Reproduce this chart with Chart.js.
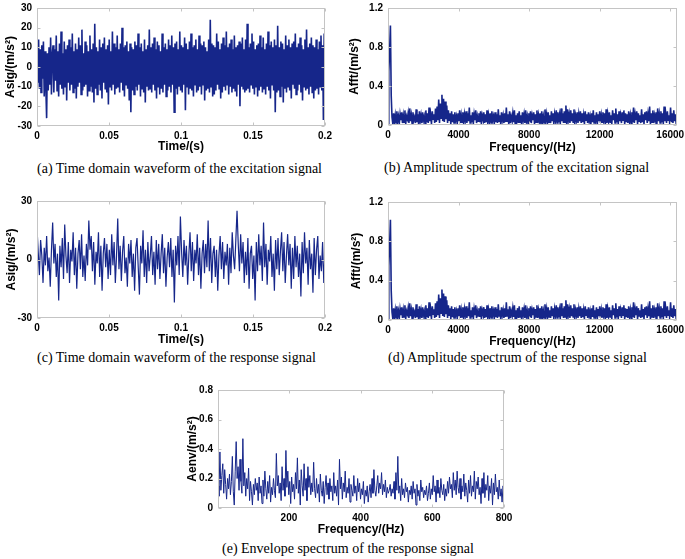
<!DOCTYPE html>
<html>
<head>
<meta charset="utf-8">
<script src="https://cdn.jsdelivr.net/npm/chart.js@4/dist/chart.umd.min.js"></script>
<style>
  body { margin: 0; background: #fff; }
  #page { position: relative; width: 685px; height: 559px; overflow: hidden; background: #fff; }
  canvas { position: absolute; }
  .caption {
    position: absolute;
    font-family: "Liberation Serif", "Times New Roman", serif;
    font-size: 14px;
    line-height: 16px;
    color: #000;
    white-space: nowrap;
  }
</style>
</head>
<body>
<div id="page">
  <canvas id="chart-a"></canvas>
  <canvas id="chart-b"></canvas>
  <canvas id="chart-c"></canvas>
  <canvas id="chart-d"></canvas>
  <canvas id="chart-e"></canvas>
  <div class="caption" style="left:37px; top:161px;">(a) Time domain waveform of the excitation signal</div>
  <div class="caption" style="left:384px; top:160px;">(b) Amplitude spectrum of the excitation signal</div>
  <div class="caption" style="left:37px; top:350px;">(c) Time domain waveform of the response signal</div>
  <div class="caption" style="left:388px; top:350px;">(d) Amplitude spectrum of the response signal</div>
  <div class="caption" style="left:222px; top:541px;">(e) Envelope spectrum of the response signal</div>
</div>
<script>

// (a) excitation signal, m/s^2, 0 .. 0.2 s
const excSignal = [
  12,-8,14,-11,9,-13,11,-6,13,-15,8,-10,-26,7,-12,10,-9,15,-14,6,
  11,-13,9,-7,16,-12,8,-15,12,-9,18,-11,7,-14,13,-10,9,-17,11,-8,
  14,-12,10,-9,17,-13,8,-11,12,-16,9,-10,15,-8,11,-14,19,-12,7,-10,
  13,-9,11,-15,8,-12,16,-10,9,-13,12,-18,22,-11,10,-14,8,-9,14,-12,
  10,-16,12,-8,15,-11,9,-13,11,-19,14,-10,8,-12,18,-9,12,-14,10,-11,
  16,-10,9,-13,12,-8,20,-12,10,-15,11,-9,13,-11,8,-17,12,-23,10,-12,
  9,-14,13,-10,11,-12,17,-9,10,-15,12,-11,8,-13,14,-18,9,-10,11,-12,
  19,-11,10,-13,12,-9,15,-12,9,-16,13,-10,11,-14,8,-11,17,-13,10,-9,
  12,-15,9,-12,14,-10,11,-13,16,-9,10,-23,12,-11,13,-14,9,-10,18,-12,
  11,-13,10,-9,15,-22,12,-10,9,-14,13,-11,17,-12,10,-15,11,-9,14,-13,
  9,-12,16,-10,12,-14,11,-9,13,-17,10,-12,8,-11,14,-13,24,-10,12,-15,
  11,-14,10,-12,17,-9,13,-11,9,-16,12,-13,15,-10,11,-12,18,-9,10,-14,
  12,-10,14,-13,9,-11,16,-12,10,-15,11,-9,13,-20,12,-10,15,-11,9,-13,
  14,-12,22,-11,10,-13,12,-9,17,-11,13,-14,9,-10,11,-15,12,-12,16,-10,
  10,-13,15,-11,9,-14,12,-10,18,-12,11,-16,13,-9,10,-12,14,-23,11,-13,
  21,-12,10,-15,13,-10,12,-18,9,-11,16,-13,11,-10,14,-12,10,-16,12,-9,
  13,-11,17,-14,10,-12,12,-9,15,-13,11,-17,9,-10,14,-12,19,-11,10,-14,
  12,-10,15,-13,11,-16,10,-12,14,-11,9,-14,13,-10,16,-12,11,-27,17,-26
];

// (c) response signal, m/s^2, 0 .. 0.2 s
const respSignal = [
  16,4,-8,10,2,-12,6,-3,12,-6,1,-14,5,19,-2,8,-9,3,-21,7,
  -4,11,-10,18,2,-7,9,-12,5,-1,14,-8,6,-15,3,10,-5,13,-9,2,
  -11,8,-3,20,5,12,-6,9,-13,4,-2,14,-9,7,-16,3,11,-4,8,-10,
  5,-8,13,-3,9,-12,2,21,-5,7,-11,4,12,-7,1,-14,8,-2,10,-9,
  3,-16,6,11,-4,-18,7,-2,15,-9,5,-12,9,-6,2,12,-8,4,-13,10,
  -5,8,-10,3,13,-7,6,-14,1,9,-4,11,-9,5,-22,7,-3,12,-8,22,
  4,-9,10,-3,7,-13,2,14,-6,9,-11,5,-2,13,-8,6,-15,3,10,-7,
  8,-4,20,-6,11,-12,3,7,-9,5,-16,2,12,-5,9,-10,4,-3,8,-13,
  6,-7,14,2,-5,10,25,8,-6,13,-2,9,-12,4,-8,11,-15,3,7,-10,
  2,-21,9,-6,13,-3,7,-11,19,-4,8,-13,5,-1,12,-9,3,-16,10,-5,
  11,-8,4,14,-6,9,-12,2,13,-3,8,-15,6,-10,12,-4,7,-9,3,-19,
  9,-7,14,-2,6,-13,10,-5,3,-17,11,-8,5,12,-10,2,-6,9,-12,4
];

// (b)/(d) amplitude spectrum, m/s^2, 0 .. 16384 Hz (both panels show the same curve)
const fftAmp = [
  0,0.55,0.75,1.02,0.3,0.08,0.01,0.12,0.03,0.1,0.02,0.14,0.04,0.09,0.01,0.11,0.05,0.13,0.02,0.1,
  0.03,0.15,0.01,0.09,0.06,0.12,0.02,0.17,0.04,0.1,0.01,0.13,0.05,0.08,0.02,0.16,0.03,0.11,0.01,0.14,
  0.04,0.1,0.02,0.13,0.05,0.09,0.01,0.15,0.03,0.12,0.02,0.18,0.04,0.1,0.01,0.14,0.06,0.11,0.02,0.17,
  0.03,0.19,0.05,0.26,0.02,0.22,0.07,0.31,0.04,0.27,0.03,0.24,0.06,0.2,0.02,0.15,0.05,0.12,0.01,0.14,
  0.03,0.11,0.02,0.13,0.05,0.09,0.01,0.12,0.04,0.15,0.02,0.1,0.03,0.13,0.01,0.11,0.05,0.14,0.02,0.12,
  0.04,0.18,0.02,0.1,0.03,0.13,0.01,0.11,0.05,0.15,0.02,0.09,0.04,0.12,0.03,0.14,0.01,0.1,0.06,0.13,
  0.02,0.11,0.03,0.15,0.01,0.1,0.04,0.12,0.02,0.14,0.05,0.09,0.01,0.13,0.03,0.11,0.02,0.16,0.04,0.1,
  0.01,0.13,0.05,0.1,0.02,0.12,0.03,0.18,0.04,0.11,0.01,0.14,0.02,0.09,0.05,0.12,0.03,0.15,0.01,0.1,
  0.04,0.12,0.02,0.14,0.03,0.1,0.01,0.13,0.05,0.11,0.02,0.15,0.04,0.09,0.01,0.12,0.03,0.14,0.02,0.1,
  0.05,0.13,0.01,0.11,0.03,0.15,0.02,0.1,0.04,0.12,0.01,0.14,0.03,0.09,0.02,0.16,0.05,0.11,0.01,0.13,
  0.03,0.1,0.02,0.14,0.04,0.12,0.01,0.11,0.05,0.15,0.02,0.13,0.03,0.1,0.01,0.17,0.04,0.12,0.02,0.14,
  0.03,0.2,0.01,0.16,0.05,0.11,0.02,0.15,0.04,0.12,0.03,0.16,0.01,0.1,0.05,0.13,0.02,0.11,0.04,0.14,
  0.02,0.12,0.03,0.1,0.01,0.14,0.05,0.11,0.02,0.13,0.04,0.09,0.01,0.12,0.03,0.15,0.02,0.1,0.05,0.13,
  0.01,0.11,0.04,0.14,0.02,0.1,0.03,0.13,0.05,0.12,0.01,0.16,0.02,0.11,0.04,0.13,0.03,0.1,0.01,0.15,
  0.05,0.12,0.02,0.17,0.03,0.11,0.01,0.14,0.04,0.1,0.02,0.13,0.05,0.15,0.01,0.12,0.03,0.11,0.02,0.14,
  0.04,0.1,0.01,0.13,0.03,0.18,0.02,0.11,0.05,0.14,0.01,0.12,0.04,0.1,0.02,0.16,0.03,0.11,0.01,0.13,
  0.05,0.14,0.02,0.11,0.04,0.19,0.01,0.12,0.03,0.15,0.02,0.1,0.05,0.13,0.01,0.17,0.04,0.11,0.02,0.14,
  0.03,0.12,0.01,0.19,0.04,0.11,0.02,0.14,0.05,0.1,0.01,0.18,0.03,0.12,0.02,0.15,0.04,0.11,0.01,0.13
];

// (e) envelope spectrum, m/s^2, 2 .. 800 Hz
const envAmp = [
  0.15,0.08,0.38,0.12,0.22,0.3,0.1,0.26,0.16,0.06,0.2,0.13,0.23,0.09,0.18,0.35,0.11,0.02,0.25,0.45,
  0.2,0.28,0.12,0.33,0.18,0.1,0.47,0.15,0.24,0.08,0.2,0.13,0.27,0.05,0.18,0.11,0.02,0.16,0.09,0.2,
  0.12,0.17,0.05,0.21,0.1,0.15,0.03,0.19,0.08,0.25,0.13,0.06,0.18,0.1,0.22,0.04,0.14,0.09,0.2,0.12,
  0.07,0.37,0.15,0.22,0.1,0.17,0.05,0.28,0.12,0.2,0.08,0.39,0.14,0.25,0.09,0.18,0.03,0.21,0.11,0.16,
  0.06,0.24,0.13,0.34,0.1,0.19,0.02,0.26,0.15,0.08,0.3,0.12,0.2,0.05,0.28,0.14,0.22,0.09,0.17,0.11,
  0.31,0.13,0.07,0.2,0.1,0.16,0.04,0.23,0.12,0.08,0.18,0.03,0.14,0.22,0.09,0.17,0.06,0.2,0.11,0.15,
  0.05,0.24,0.1,0.15,0.08,0.19,0.02,0.33,0.13,0.21,0.06,0.17,0.11,0.25,0.07,0.14,0.1,0.2,0.04,0.16,
  0.12,0.08,0.22,0.1,0.15,0.05,0.2,0.11,0.17,0.06,0.13,0.09,0.18,0.03,0.12,0.08,0.15,0.04,0.11,0.16,
  0.07,0.2,0.1,0.26,0.12,0.08,0.15,0.22,0.1,0.17,0.13,0.24,0.09,0.16,0.11,0.19,0.07,0.14,0.1,0.12,
  0.16,0.08,0.13,0.1,0.18,0.06,0.24,0.12,0.35,0.1,0.15,0.05,0.2,0.09,0.13,0.07,0.17,0.11,0.14,0.04,
  0.12,0.09,0.15,0.06,0.18,0.1,0.13,0.02,0.16,0.08,0.12,0.05,0.19,0.11,0.14,0.07,0.12,0.09,0.15,0.05,
  0.1,0.17,0.06,0.13,0.09,0.22,0.11,0.15,0.04,0.19,0.1,0.14,0.07,0.2,0.12,0.09,0.16,0.05,0.13,0.08,
  0.18,0.1,0.21,0.13,0.16,0.07,0.24,0.12,0.19,0.09,0.25,0.14,0.1,0.2,0.06,0.15,0.11,0.23,0.08,0.17,
  0.12,0.04,0.19,0.1,0.22,0.08,0.15,0.11,0.25,0.06,0.18,0.13,0.21,0.09,0.14,0.03,0.2,0.1,0.24,0.07,
  0.16,0.12,0.22,0.05,0.15,0.1,0.2,0.02,0.17,0.09,0.23,0.11,0.14,0.06,0.19,0.08,0.13,0.04,0.15,0.1
];

// tick labels
const timeTicks = [0, 0.05, 0.1, 0.15, 0.2];
const freqTicks = [0, 4000, 8000, 12000, 16000];
const envFreqTicks = [200, 400, 600, 800];
const sigTicksA = [-30, -20, -10, 0, 10, 20, 30];
const sigTicksC = [-30, 0, 30];
const ampTicks = [0, 0.4, 0.8, 1.2];
const envTicks = [0, 0.2, 0.4, 0.6, 0.8];

const lineColor = 'rgb(22, 38, 138)';
const frameColor = '#c4c4c4';
const tickFont = { family: '"Liberation Sans", Arial, sans-serif', size: 10, weight: 'bold' };
const titleFont = { family: '"Liberation Sans", Arial, sans-serif', size: 12, weight: 'bold' };

// sample grid -> {x, y}
function toPoints(values, x0, x1) {
  const dx = (x1 - x0) / (values.length - 1);
  return values.map((v, i) => ({ x: x0 + i * dx, y: v }));
}

// light box + small inward ticks, like the matlab axes
const framePlugin = {
  id: 'frame',
  afterDraw(chart) {
    const { ctx, chartArea: a, scales } = chart;
    const l = Math.round(a.left) + 0.5, r = Math.round(a.right) - 0.5;
    const t = Math.round(a.top) + 0.5, b = Math.round(a.bottom) - 0.5;
    ctx.save();
    ctx.strokeStyle = frameColor;
    ctx.lineWidth = 1;
    ctx.strokeRect(l, t, r - l, b - t);
    ctx.beginPath();
    scales.x.ticks.forEach(tk => {
      const px = Math.round(scales.x.getPixelForValue(tk.value)) + 0.5;
      ctx.moveTo(px, b); ctx.lineTo(px, b - 3);
      ctx.moveTo(px, t); ctx.lineTo(px, t + 3);
    });
    scales.y.ticks.forEach(tk => {
      const py = Math.round(scales.y.getPixelForValue(tk.value)) + 0.5;
      ctx.moveTo(l, py); ctx.lineTo(l + 3, py);
      ctx.moveTo(r, py); ctx.lineTo(r - 3, py);
    });
    ctx.stroke();
    ctx.restore();
  }
};

// p: canvas left, plot box (L, T, R, B) and x title centre
function makePanel(id, p) {
  const canvas = document.getElementById(id);
  const top = p.T - 8;
  const w = p.R - p.left + 14;
  const h = Math.round(p.xTitleY + 7.2) - top;
  canvas.width = w;
  canvas.height = h;
  canvas.style.left = p.left + 'px';
  canvas.style.top = top + 'px';

  return new Chart(canvas, {
    type: 'line',
    data: {
      datasets: [{
        data: p.points,
        borderColor: lineColor,
        borderWidth: p.lw,
        pointRadius: 0,
        tension: 0,
        fill: false
      }]
    },
    options: {
      responsive: false,
      animation: false,
      devicePixelRatio: 1,
      events: [],
      layout: { padding: { top: 8, right: 14, left: 0, bottom: 0 } },
      plugins: { legend: { display: false }, tooltip: { enabled: false } },
      scales: {
        x: {
          type: 'linear',
          min: p.xMin,
          max: p.xMax,
          afterBuildTicks: s => { s.ticks = p.xTicks.map(v => ({ value: v })); },
          afterFit: s => { s.height = h - (p.B - top); },
          grid: { display: false, drawTicks: false },
          border: { display: false },
          ticks: { padding: 4, color: '#000', font: tickFont, autoSkip: false, maxRotation: 0,
                   callback: v => String(v) },
          title: { display: true, text: p.xTitle, color: '#000', font: titleFont, padding: { top: 0, bottom: 0 } }
        },
        y: {
          type: 'linear',
          min: p.yMin,
          max: p.yMax,
          afterBuildTicks: s => { s.ticks = p.yTicks.map(v => ({ value: v })); },
          afterFit: s => { s.width = p.L - p.left; },
          grid: { display: false, drawTicks: false },
          border: { display: false },
          ticks: { padding: 5, color: '#000', font: tickFont, autoSkip: false,
                   callback: v => String(v) },
          title: { display: true, text: p.yTitle, color: '#000', font: titleFont, padding: { top: 3, bottom: 0 } }
        }
      }
    },
    plugins: [framePlugin]
  });
}

makePanel('chart-a', {
  left: 0, L: 37, T: 5, R: 325, B: 126, xTitleY: 147, lw: 1.6,
  points: toPoints(excSignal, 0, 0.2), xMin: 0, xMax: 0.2, xTicks: timeTicks,
  yMin: -30, yMax: 30, yTicks: sigTicksA, xTitle: 'Time/(s)', yTitle: 'Asig/(m/s²)'
});
makePanel('chart-b', {
  left: 344, L: 388, T: 5, R: 677, B: 125, xTitleY: 148, lw: 1.6,
  points: toPoints(fftAmp, 0, 16384), xMin: 0, xMax: 16384, xTicks: freqTicks,
  yMin: 0, yMax: 1.2, yTicks: ampTicks, xTitle: 'Frequency/(Hz)', yTitle: 'Afft/(m/s²)'
});
makePanel('chart-c', {
  left: 1, L: 37, T: 198, R: 325, B: 318, xTitleY: 340, lw: 1.2,
  points: toPoints(respSignal, 0, 0.2), xMin: 0, xMax: 0.2, xTicks: timeTicks,
  yMin: -30, yMax: 30, yTicks: sigTicksC, xTitle: 'Time/(s)', yTitle: 'Asig/(m/s²)'
});
makePanel('chart-d', {
  left: 346, L: 388, T: 199, R: 677, B: 320, xTitleY: 342, lw: 1.6,
  points: toPoints(fftAmp, 0, 16384), xMin: 0, xMax: 16384, xTicks: freqTicks,
  yMin: 0, yMax: 1.2, yTicks: ampTicks, xTitle: 'Frequency/(Hz)', yTitle: 'Afft/(m/s²)'
});
makePanel('chart-e', {
  left: 182, L: 218, T: 387, R: 504, B: 508, xTitleY: 530, lw: 1,
  points: toPoints(envAmp, 2, 800), xMin: 2, xMax: 800, xTicks: envFreqTicks,
  yMin: 0, yMax: 0.8, yTicks: envTicks, xTitle: 'Frequency/(Hz)', yTitle: 'Aenv/(m/s²)'
});
</script>
</body>
</html>
